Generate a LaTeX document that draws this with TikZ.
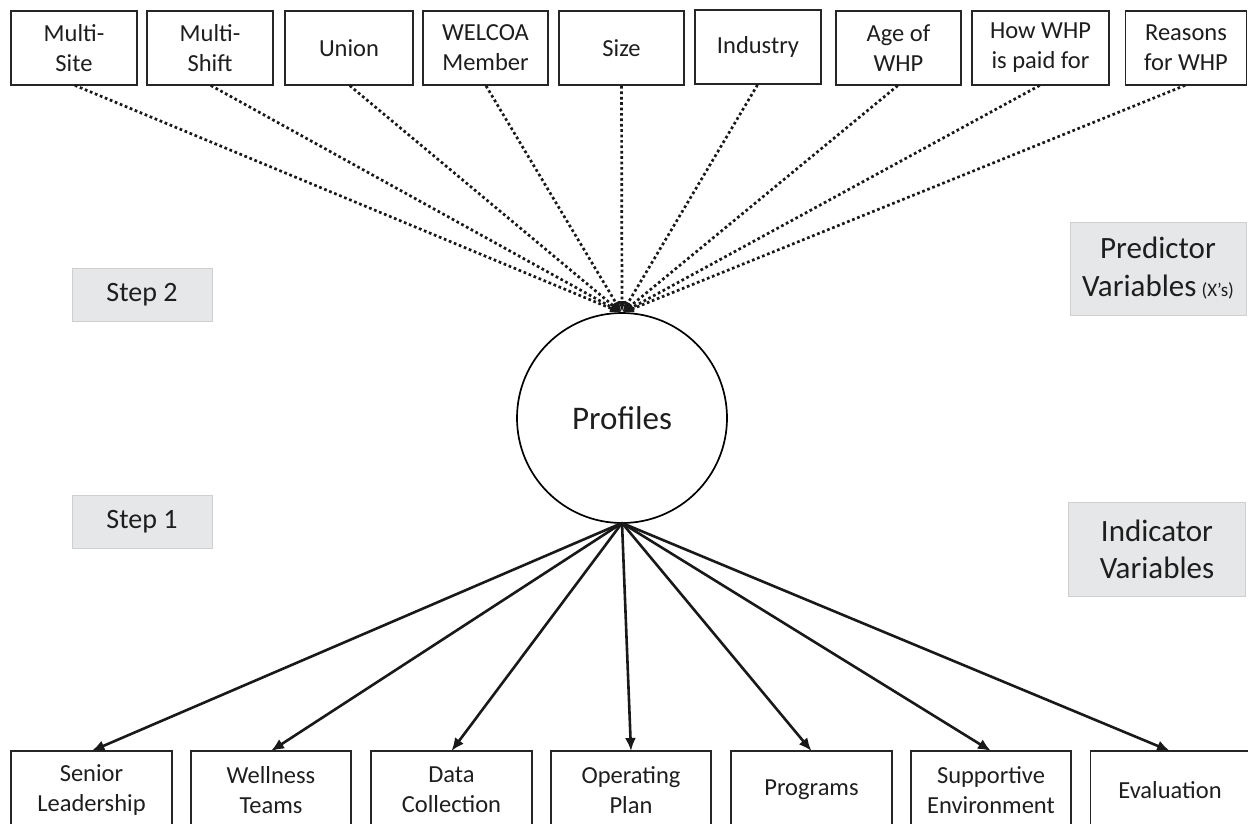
\documentclass[tikz,border=0pt]{standalone}
\usepackage{fontspec}
\setmainfont{Carlito}
\usetikzlibrary{arrows.meta}
\definecolor{txt}{HTML}{1E1E1E}
\definecolor{greyfill}{HTML}{E6E7E8}
\definecolor{greyline}{HTML}{CFCFCF}
\tikzset{
  topbox/.style={draw=black!85, line width=1.7pt, rectangle, inner sep=0pt, outer sep=0pt,
    minimum height=74pt, align=center, text=txt, font=\fontsize{24.5}{30}\selectfont},
  botbox/.style={draw=black!85, line width=1.7pt, rectangle, inner sep=0pt, outer sep=0pt,
    minimum height=78pt, align=center, text=txt, font=\fontsize{24.5}{30}\selectfont},
  greybox/.style={draw=greyline, fill=greyfill, line width=1pt, rectangle, inner sep=0pt,
    align=center, text=txt},
  dotarrow/.style={line width=2.7pt, dash pattern=on 2.7pt off 2.7pt, black!90,
    -{Latex[length=12pt,width=8pt]}, shorten <=1pt},
  solidarrow/.style={line width=2.6pt, black!90, -{Latex[length=13pt,width=11pt]}},
}
\begin{document}
\begin{tikzpicture}[x=1pt,y=-1pt]
\useasboundingbox (0,0) rectangle (1248,823);
\clip (0,0) rectangle (1248,823);
% top row
\node[topbox, minimum width=126pt] (t1) at (74,48) {Multi-\\Site};
\node[topbox, minimum width=126pt] (t2) at (210,48) {Multi-\\Shift};
\node[topbox, minimum width=128pt] (t3) at (349,48) {Union};
\node[topbox, minimum width=125pt] (t4) at (485.5,48) {WELCOA\\Member};
\node[topbox, minimum width=125pt] (t5) at (621.5,48) {Size};
\node[topbox, minimum width=126pt] (t6) at (758,47) {Industry};
\node[topbox, minimum width=125pt] (t7) at (898.5,48) {Age of\\WHP};
\node[topbox, minimum width=137pt] (t8) at (1040.5,48) {How WHP\\is paid for};
\node[topbox, minimum width=121pt] (t9) at (1186,48) {Reasons\\for WHP};
% circle
\node[circle, draw=black, line width=1.7pt, fill=white, minimum size=210pt, inner sep=0pt,
  outer sep=0pt, text=txt, font=\fontsize{33}{39}\selectfont] (prof) at (622,418) {Profiles};
% bottom row
\node[botbox, minimum width=161pt] (b1) at (91.5,790) {Senior\\Leadership};
\node[botbox, minimum width=160pt] (b2) at (271,790) {Wellness\\Teams};
\node[botbox, minimum width=161pt] (b3) at (451.5,790) {Data\\Collection};
\node[botbox, minimum width=160pt] (b4) at (631,790) {Operating\\Plan};
\node[botbox, minimum width=161pt] (b5) at (811.5,790) {Programs};
\node[botbox, minimum width=160pt] (b6) at (991,790) {Supportive\\Environment};
\node[botbox, minimum width=159pt] (b7) at (1170,790) {Evaluation};
% grey labels
\node[greybox, minimum width=140pt, minimum height=53pt, font=\fontsize{28}{34}\selectfont] (s2) at (142,294.5) {Step 2};
\node[greybox, minimum width=140pt, minimum height=53pt, font=\fontsize{28}{34}\selectfont] (s1) at (142,521.5) {Step 1};
\node[greybox, minimum width=176pt, minimum height=93pt, font=\fontsize{31}{38}\selectfont] (pv) at (1158,268.5) {Predictor\\Variables\,{\fontsize{19}{22}\selectfont(X’s)}};
\node[greybox, minimum width=177pt, minimum height=94pt, font=\fontsize{31}{37}\selectfont] (iv) at (1157,549) {Indicator\\Variables};
% dotted arrows
\foreach \i in {1,...,9} \draw[dotarrow] (t\i.south) -- (prof.north);
% solid arrows
\foreach \i in {1,...,7} \draw[solidarrow] (prof.south) -- (b\i.north);
\end{tikzpicture}
\end{document}
